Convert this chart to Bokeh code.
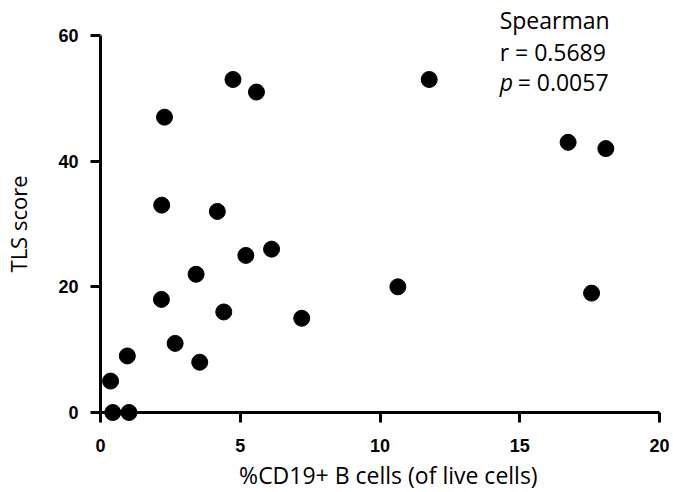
from bokeh.plotting import figure
from bokeh.models import Range1d, FixedTicker, ColumnDataSource
from bokeh.core.properties import value
from bokeh.embed import file_html
from bokeh.resources import INLINE

# ---- data ----
cd19_pct = [0.36, 0.44, 1.02, 0.96, 2.18, 2.67, 3.42, 3.55, 4.41, 5.20, 2.29,
            4.74, 5.58, 2.19, 4.18, 6.12, 7.20, 10.64, 11.76, 16.73, 18.08, 17.57]
tls_score = [5, 0, 0, 9, 18, 11, 22, 8, 16, 25, 47,
             53, 51, 33, 32, 26, 15, 20, 53, 43, 42, 19]
x_ticks = [0, 5, 10, 15, 20]
y_ticks = [0, 20, 40, 60]
x_title = "%CD19+ B cells (of live cells)"
y_title = "TLS score"
stat_method = "Spearman"
stat_r = "r = 0.5689"
stat_p_symbol = "p"
stat_p_value = "= 0.0057"

source = ColumnDataSource(data=dict(x=cd19_pct, y=tls_score))

p = figure(width=673, height=492, output_backend="svg", toolbar_location=None,
           x_range=Range1d(0, 20), y_range=Range1d(0, 60),
           min_border_left=96, min_border_right=14, min_border_top=35,
           min_border_bottom=80)
p.grid.visible = False
p.outline_line_color = None
p.background_fill_color = "white"
p.border_fill_color = "white"

for ax in (p.xaxis[0], p.yaxis[0]):
    ax.axis_line_width = 3
    ax.axis_line_color = "black"
    ax.major_tick_line_width = 3
    ax.major_tick_line_color = "black"
    ax.major_tick_in = 0
    ax.major_tick_out = 10
    ax.minor_tick_line_color = None
    ax.major_label_text_font = "Liberation Sans"
    ax.major_label_text_font_style = "bold"
    ax.major_label_text_font_size = "18px"
    ax.major_label_text_color = "black"
    ax.axis_label_text_font = "Open Sans"
    ax.axis_label_text_font_style = "normal"
    ax.axis_label_text_font_size = "22px"
    ax.axis_label_text_color = "black"

p.xaxis.ticker = FixedTicker(ticks=x_ticks)
p.yaxis.ticker = FixedTicker(ticks=y_ticks)
p.yaxis.axis_label = y_title
p.xaxis.major_label_standoff = 16
p.yaxis.major_label_standoff = 12
p.yaxis.axis_label_standoff = 22

p.scatter("x", "y", source=source, size=16, fill_color="black",
          line_color="black", level="overlay")

txt = dict(text_font=value("Open Sans"), text_font_size=value("23px"),
           text_color="black", text_baseline="alphabetic", level="overlay",
           y_offset=-10)

# x-axis title, centred below the tick labels
p.text(x=[10.3], y=[-11.5], text=[x_title], text_align="center", **txt)

# Spearman statistics block (top right)
p.text(x=[14.28, 14.28], y=[60.95, 55.85], text=[stat_method, stat_r],
       text_align="left", **txt)
p.text(x=[14.28], y=[50.95], text=[stat_p_symbol], text_align="left",
       text_font_style="italic", **txt)
p.text(x=[14.28], y=[50.95], x_offset=18, text=[stat_p_value],
       text_align="left", **txt)

open("out.html", "w").write(file_html(p, INLINE))
